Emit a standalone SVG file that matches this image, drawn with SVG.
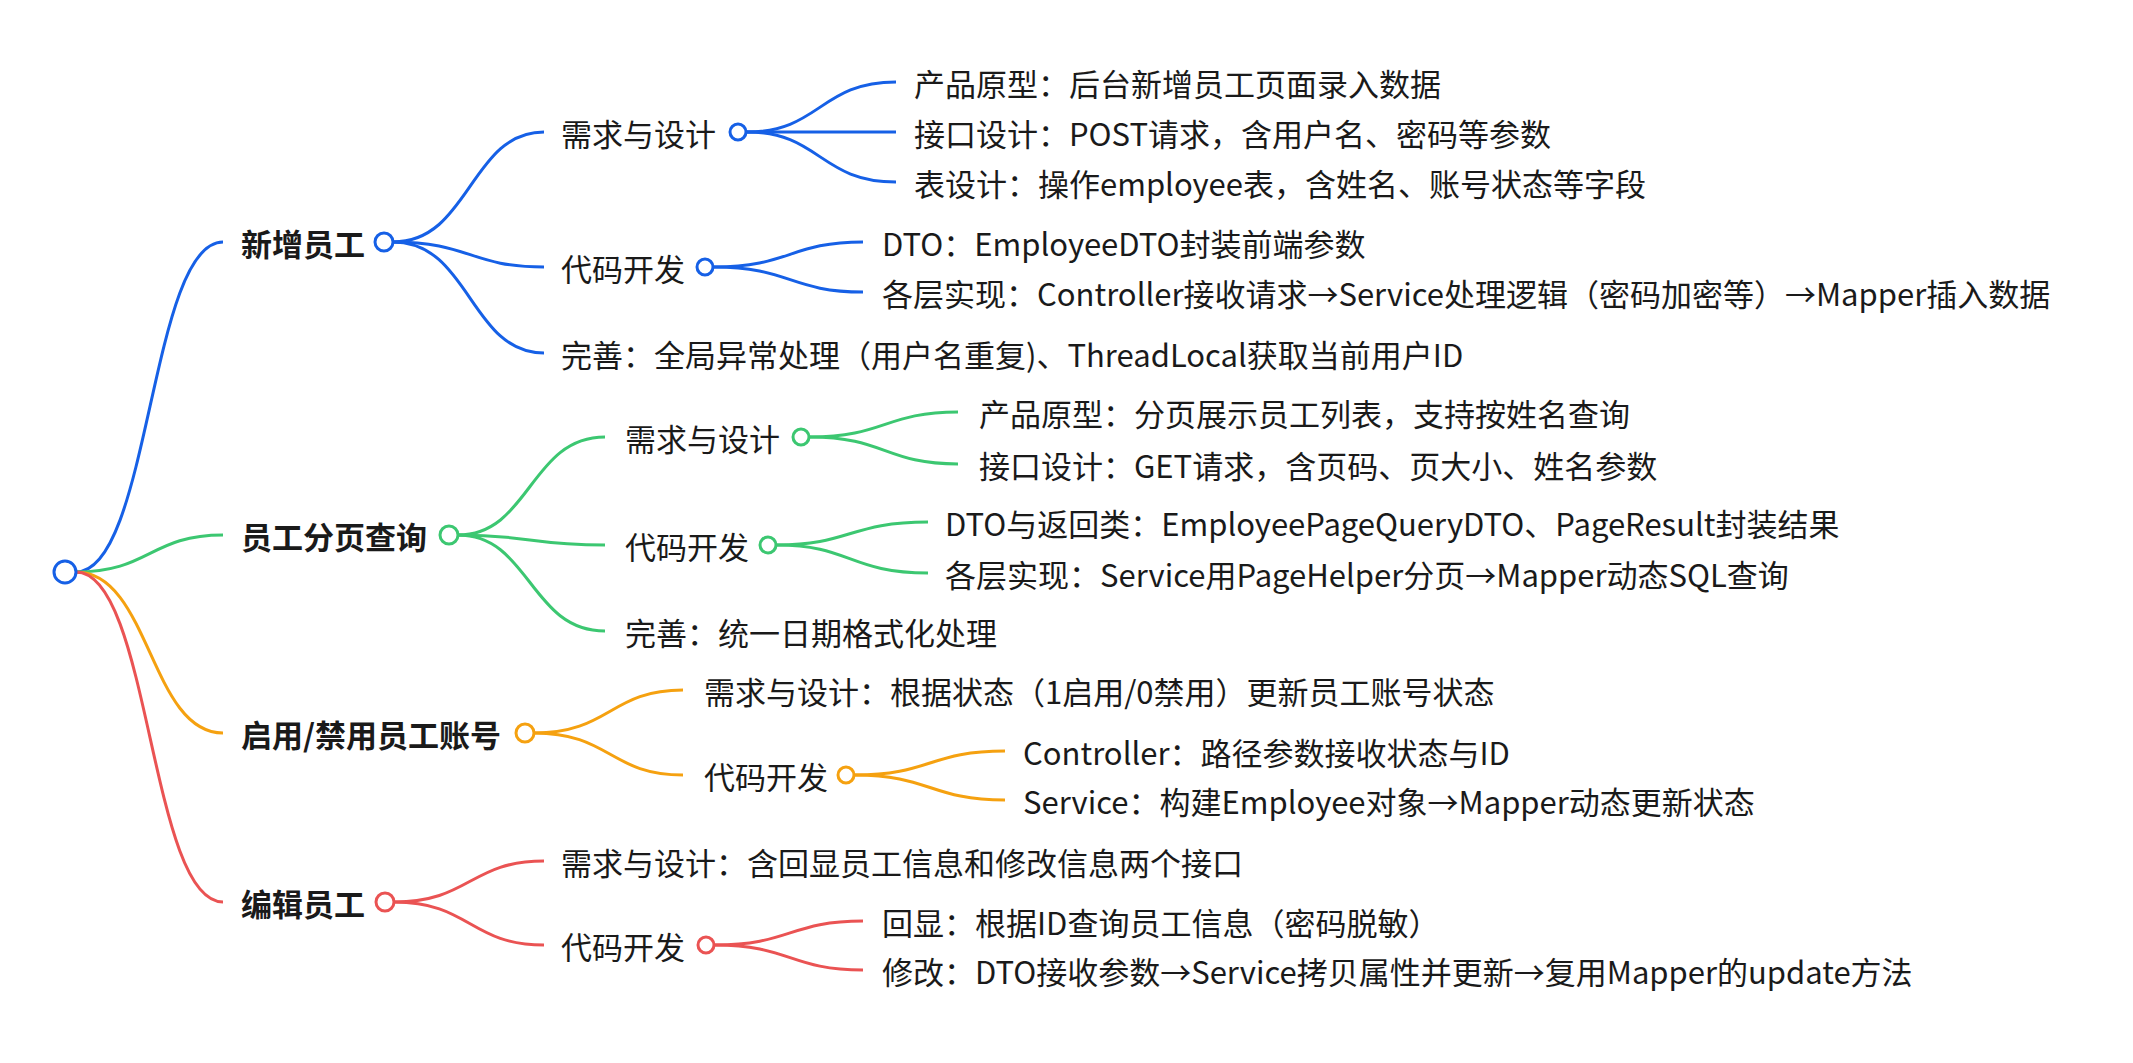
<svg xmlns="http://www.w3.org/2000/svg" width="2133" height="1063" viewBox="0 0 2133 1063">
<style>
text{font-family:"Noto Sans CJK SC","Noto Sans",sans-serif;font-size:31px;fill:#1a1a1a;dominant-baseline:central}
.b{font-weight:bold}
path{fill:none;stroke-width:3}
circle{fill:#fff;stroke-width:3}
.bl{stroke:#1660e6}.gr{stroke:#3cc771}.or{stroke:#f5a110}.rd{stroke:#ea5353}
</style>
<rect width="2133" height="1063" fill="#fff"/>
<g id="connectors">
<path class="bl" d="M76 572 C150 572 150 242 223 242"/>
<path class="gr" d="M76 572 C150 572 150 535 223 535"/>
<path class="or" d="M76 572 C150 572 150 733 223 733"/>
<path class="rd" d="M76 572 C150 572 150 902 223 902"/>
<path class="bl" d="M393 242 C470 242 470 132 544 132"/>
<path class="bl" d="M393 242 C470 242 470 267 544 267"/>
<path class="bl" d="M393 242 C470 242 470 353 544 353"/>
<path class="bl" d="M747 132 C820 132 820 82 896 82"/>
<path class="bl" d="M747 132 C820 132 820 132 896 132"/>
<path class="bl" d="M747 132 C820 132 820 182 896 182"/>
<path class="bl" d="M714 267 C790 267 790 242 863 242"/>
<path class="bl" d="M714 267 C790 267 790 292 863 292"/>
<path class="gr" d="M458 535 C530 535 530 437 605 437"/>
<path class="gr" d="M458 535 C530 535 530 545 605 545"/>
<path class="gr" d="M458 535 C530 535 530 631 605 631"/>
<path class="gr" d="M810 437 C885 437 885 412 958 412"/>
<path class="gr" d="M810 437 C885 437 885 464 958 464"/>
<path class="gr" d="M777 545 C850 545 850 522 928 522"/>
<path class="gr" d="M777 545 C850 545 850 573 928 573"/>
<path class="or" d="M534 733 C610 733 610 690 683 690"/>
<path class="or" d="M534 733 C610 733 610 775 683 775"/>
<path class="or" d="M855 775 C930 775 930 751 1005 751"/>
<path class="or" d="M855 775 C930 775 930 800 1005 800"/>
<path class="rd" d="M394 902 C470 902 470 861 544 861"/>
<path class="rd" d="M394 902 C470 902 470 945 544 945"/>
<path class="rd" d="M715 945 C790 945 790 921 863 921"/>
<path class="rd" d="M715 945 C790 945 790 970 863 970"/>
</g>
<g id="root"><circle class="bl" cx="65" cy="572" r="11"/></g>
<g id="n1"><text class="b" x="241" y="242">新增员工</text><circle class="bl" cx="384" cy="242" r="9"/></g>
<g id="n1a"><text x="561" y="132">需求与设计</text><circle class="bl" cx="738" cy="132" r="8"/></g>
<g id="n1a1"><text x="914" y="82">产品原型：后台新增员工页面录入数据</text></g>
<g id="n1a2"><text x="914" y="132">接口设计：POST请求，含用户名、密码等参数</text></g>
<g id="n1a3"><text x="914" y="182">表设计：操作employee表，含姓名、账号状态等字段</text></g>
<g id="n1b"><text x="561" y="267">代码开发</text><circle class="bl" cx="705" cy="267" r="8"/></g>
<g id="n1b1"><text x="882" y="242">DTO：EmployeeDTO封装前端参数</text></g>
<g id="n1b2"><text x="882" y="292">各层实现：Controller接收请求→Service处理逻辑（密码加密等）→Mapper插入数据</text></g>
<g id="n1c"><text x="561" y="353">完善：全局异常处理（用户名重复)、ThreadLocal获取当前用户ID</text></g>
<g id="n2"><text class="b" x="241" y="535">员工分页查询</text><circle class="gr" cx="449" cy="535" r="9"/></g>
<g id="n2a"><text x="625" y="437">需求与设计</text><circle class="gr" cx="801" cy="437" r="8"/></g>
<g id="n2a1"><text x="979" y="412">产品原型：分页展示员工列表，支持按姓名查询</text></g>
<g id="n2a2"><text x="979" y="464">接口设计：GET请求，含页码、页大小、姓名参数</text></g>
<g id="n2b"><text x="625" y="545">代码开发</text><circle class="gr" cx="768" cy="545" r="8"/></g>
<g id="n2b1"><text x="945" y="522">DTO与返回类：EmployeePageQueryDTO、PageResult封装结果</text></g>
<g id="n2b2"><text x="945" y="573">各层实现：Service用PageHelper分页→Mapper动态SQL查询</text></g>
<g id="n2c"><text x="625" y="631">完善：统一日期格式化处理</text></g>
<g id="n3"><text class="b" x="241" y="733">启用/禁用员工账号</text><circle class="or" cx="525" cy="733" r="9"/></g>
<g id="n3a"><text x="704" y="690">需求与设计：根据状态（1启用/0禁用）更新员工账号状态</text></g>
<g id="n3b"><text x="704" y="775">代码开发</text><circle class="or" cx="846" cy="775" r="8"/></g>
<g id="n3b1"><text x="1023" y="751">Controller：路径参数接收状态与ID</text></g>
<g id="n3b2"><text x="1023" y="800">Service：构建Employee对象→Mapper动态更新状态</text></g>
<g id="n4"><text class="b" x="241" y="902">编辑员工</text><circle class="rd" cx="385" cy="902" r="9"/></g>
<g id="n4a"><text x="561" y="861">需求与设计：含回显员工信息和修改信息两个接口</text></g>
<g id="n4b"><text x="561" y="945">代码开发</text><circle class="rd" cx="706" cy="945" r="8"/></g>
<g id="n4b1"><text x="882" y="921">回显：根据ID查询员工信息（密码脱敏）</text></g>
<g id="n4b2"><text x="882" y="970">修改：DTO接收参数→Service拷贝属性并更新→复用Mapper的update方法</text></g>
</svg>
